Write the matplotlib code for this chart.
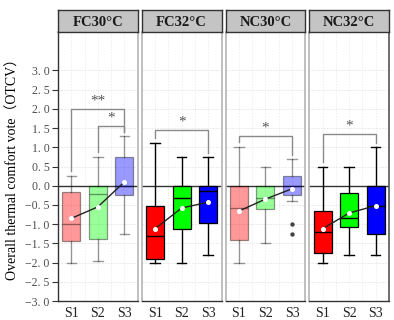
import matplotlib
matplotlib.use("Agg")
import matplotlib.pyplot as plt
import numpy as np
from matplotlib.ticker import FuncFormatter

# data (OTCV)
groups = ["FC30°C", "FC32°C", "NC30°C", "NC32°C"]
scenes = ["S1", "S2", "S3"]
y_ticks = np.arange(-3.0, 3.01, 0.5)

whis_hi = [[0.25, 0.75, 1.3], [1.1, 0.75, 0.75], [1.0, 0.5, 0.7], [0.5, 0.5, 1.0]]
q3 = [[-0.17, 0.0, 0.75], [-0.53, 0.0, 0.0], [0.0, 0.0, 0.24], [-0.66, -0.18, 0.0]]
median = [[-1.0, -0.22, 0.0], [-1.3, -0.33, -0.15], [-0.57, -0.33, 0.0], [-1.2, -0.83, -0.53]]
q1 = [[-1.43, -1.38, -0.24], [-1.9, -1.12, -0.98], [-1.42, -0.61, -0.25], [-1.76, -1.08, -1.25]]
whis_lo = [[-2.0, -1.95, -1.25], [-2.0, -2.0, -1.8], [-2.0, -1.5, -0.4], [-2.0, -1.8, -1.8]]
means = [[-0.85, -0.55, 0.1], [-1.12, -0.58, -0.43], [-0.66, -0.35, -0.08], [-1.12, -0.71, -0.52]]
outliers = [[[], [], []], [[], [], []], [[], [], [-1.0, -1.25]], [[], [], []]]

# significance brackets: (from, to, height, label)
signif = [
    [(1, 3, 2.0, "**"), (2, 3, 1.55, "*")],
    [(1, 3, 1.45, "*")],
    [(1, 3, 1.3, "*")],
    [(1, 3, 1.35, "*")],
]

colors = ["#ff0000", "#00ff00", "#0000ff"]
light = [True, False, True, False]

serif = ["Liberation Serif", "DejaVu Serif"]
plt.rcParams["font.family"] = serif

fig = plt.figure(figsize=(3.94, 3.2), dpi=100)
W, H = 394.0, 320.0
left, right, bottom, top = 58, 389, 301, 32
gap = 4
pw = (right - left - 3 * gap) / 4.0
strip_top = 10

for g in range(4):
    x0 = left + g * (pw + gap)
    ax = fig.add_axes([x0 / W, 1 - bottom / H, pw / W, (bottom - top) / H])
    alpha = 0.4 if light[g] else 1.0

    stats = []
    for i in range(3):
        stats.append(dict(med=median[g][i], q1=q1[g][i], q3=q3[g][i],
                          whislo=whis_lo[g][i], whishi=whis_hi[g][i],
                          fliers=outliers[g][i], label=scenes[i]))
    bp = ax.bxp(stats, positions=[1, 2, 3], widths=0.68, patch_artist=True,
                showfliers=True, capwidths=0.36, manage_ticks=False, zorder=3)
    for i, box in enumerate(bp["boxes"]):
        box.set_facecolor(colors[i])
        box.set_edgecolor("black")
        box.set_linewidth(0.9)
        box.set_alpha(alpha)
    for part in ("whiskers", "caps", "medians"):
        for ln in bp[part]:
            ln.set_color("black")
            ln.set_linewidth(1.0)
            ln.set_alpha(alpha)
    for fl in bp["fliers"]:
        fl.set(marker="o", markersize=2.2, markerfacecolor="#333333",
               markeredgecolor="#333333", alpha=0.85)

    ax.plot([1, 2, 3], means[g], color="#222222", lw=1.0, marker="o",
            markersize=2.6, markerfacecolor="white", markeredgecolor="white",
            zorder=5)

    for (a, b, y, lab) in signif[g]:
        la = whis_hi[g][a - 1] + 0.13
        lb = whis_hi[g][b - 1] + 0.11
        ax.plot([a, a, b, b], [la, y, y, lb], color="#8a8a8a", lw=1.0, zorder=4)
        ax.text((a + b) / 2, y + 0.04, lab, ha="center", va="bottom",
                fontsize=11, color="#555555")

    ax.axhline(0, color="#333333", lw=1.0, zorder=2)

    ax.set_ylim(-3.0, 4.0)
    ax.set_xlim(0.5, 3.5)
    ax.set_yticks(y_ticks)
    ax.set_xticks([1, 2, 3], scenes)
    ax.set_xticks([1.5, 2.5], minor=True)
    ax.grid(True, which="major", axis="y", color="#e4e4e4", lw=0.6, ls=(0, (2, 1.5)))
    ax.grid(True, which="both", axis="x", color="#eeeeee", lw=0.6, ls=(0, (2, 1.5)))
    ax.set_axisbelow(True)

    for side in ("top", "right"):
        ax.spines[side].set_color("#b5b5b5")
        ax.spines[side].set_linewidth(1.2)
    ax.spines["bottom"].set_color("#333333")
    ax.spines["bottom"].set_linewidth(1.0)
    if g == 0:
        ax.spines["left"].set_color("#333333")
        ax.spines["left"].set_linewidth(1.0)
        ax.yaxis.set_major_formatter(FuncFormatter(
            lambda v, p: f"{v:.1f}".replace("-", "\u2212").replace(".", ". ")))
        ax.tick_params(axis="y", length=4, width=0.8, color="#333333",
                       labelsize=8.5, labelcolor="#4d4d4d", pad=2)
        ax.set_ylabel("Overall thermal comfort vote（OTCV）", fontsize=10,
                      family=["Liberation Serif", "Noto Sans CJK SC"], labelpad=4)
    else:
        ax.spines["left"].set_color("#b5b5b5")
        ax.spines["left"].set_linewidth(1.2)
        ax.tick_params(axis="y", length=0, labelleft=False)
    if g == 3:
        ax.spines["right"].set_color("#555555")
    ax.tick_params(axis="x", which="major", length=0, labelsize=10, pad=4, labelcolor="#222222")
    ax.tick_params(axis="x", which="minor", length=0)

    # facet strip
    sax = fig.add_axes([x0 / W, 1 - top / H, pw / W, (top - strip_top) / H])
    sax.set_facecolor("#c4c4c4")
    sax.set_xticks([])
    sax.set_yticks([])
    for sp in sax.spines.values():
        sp.set_color("#333333")
        sp.set_linewidth(1.0)
    sax.text(0.5, 0.45, groups[g], ha="center", va="center", fontsize=10.5,
             fontweight="bold", color="#1a1a1a", transform=sax.transAxes)

fig.savefig("out.png", dpi=100)
